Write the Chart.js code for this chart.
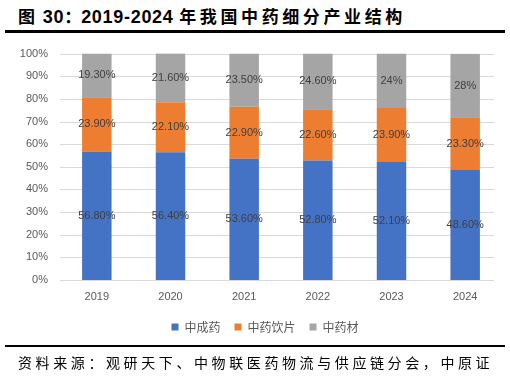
<!DOCTYPE html>
<html>
<head>
<meta charset="utf-8">
<script src="https://cdn.jsdelivr.net/npm/chart.js@4/dist/chart.umd.min.js"></script>
<style>
  html, body { margin: 0; padding: 0; background: #fff; }
  body { width: 510px; height: 378px; position: relative; overflow: hidden; }
  #title {
    position: absolute; left: 18px; top: 3px;
    font: bold 17px "Noto Sans CJK SC", sans-serif; color: #000;
    white-space: nowrap;
  }
  #title .num { font: bold 18px "Liberation Sans", Arial, sans-serif; letter-spacing: 0.7px; }
  #title .cn { letter-spacing: 3.6px; }
  .rule { position: absolute; left: 5px; width: 500px; background: #000; }
  #topRule { top: 30px; height: 3px; }
  #bottomRule { top: 345px; height: 2px; }
  #source {
    position: absolute; left: 18px; top: 352px;
    font: 14px "Noto Sans CJK SC", serif; color: #000;
    letter-spacing: 3.6px; white-space: nowrap;
  }
  #wrap { position: absolute; left: 0; top: 35px; width: 510px; height: 314px; }
</style>
</head>
<body>
<div id="title">图&nbsp;&nbsp;<span class="num">30</span>：<span class="num">2019-2024 </span><span class="cn">年我国中药细分产业结构</span></div>
<div class="rule" id="topRule"></div>
<div id="wrap"><canvas id="chart"></canvas></div>
<div class="rule" id="bottomRule"></div>
<div id="source">资料来源：观研天下、中物联医药物流与供应链分会，中原证</div>

<script>
const years = ["2019", "2020", "2021", "2022", "2023", "2024"];
const seriesNames = ["中成药", "中药饮片", "中药材"];
const patentMedicine = [56.8, 56.4, 53.6, 52.8, 52.1, 48.6];
const decoctionPieces = [23.9, 22.1, 22.9, 22.6, 23.9, 23.3];
const herbs = [19.3, 21.6, 23.5, 24.6, 24, 28];
// labels as printed on the bars
const patentLabels = ["56.80%", "56.40%", "53.60%", "52.80%", "52.10%", "48.60%"];
const piecesLabels = ["23.90%", "22.10%", "22.90%", "22.60%", "23.90%", "23.30%"];
const herbsLabels = ["19.30%", "21.60%", "23.50%", "24.60%", "24%", "28%"];
const colors = ["#4472C4", "#ED7D31", "#A5A5A5"];

const labelSets = [patentLabels, piecesLabels, herbsLabels];

// draw the value text in the middle of each bar segment
const barLabels = {
    id: "barLabels",
    afterDatasetsDraw(chart) {
        const ctx = chart.ctx;
        ctx.save();
        ctx.font = "11px 'Liberation Sans', Arial, sans-serif";
        ctx.fillStyle = "#404040";
        ctx.textAlign = "center";
        ctx.textBaseline = "middle";
        chart.data.datasets.forEach((ds, i) => {
            const meta = chart.getDatasetMeta(i);
            meta.data.forEach((bar, j) => {
                const mid = (bar.y + bar.base) / 2;
                ctx.fillText(labelSets[i][j], bar.x, mid);
            });
        });
        ctx.restore();
    }
};

// horizontal gridlines (stop a bit short of the right edge like the original)
const gridLines = {
    id: "gridLines",
    beforeDatasetsDraw(chart) {
        const ctx = chart.ctx;
        const area = chart.chartArea;
        const y = chart.scales.y;
        ctx.save();
        ctx.strokeStyle = "#d9d9d9";
        ctx.lineWidth = 1;
        y.ticks.forEach(t => {
            const py = Math.round(y.getPixelForValue(t.value)) + 0.5;
            ctx.beginPath();
            ctx.moveTo(area.left, py);
            ctx.lineTo(area.right - 8, py);
            ctx.stroke();
        });
        ctx.restore();
    }
};

// legend sits a little right of centre in the original
const legendShift = {
    id: "legendShift",
    afterLayout(chart) {
        chart.legend.left += 14;
        chart.legend.right += 14;
    }
};

new Chart(document.getElementById("chart"), {
    type: "bar",
    data: {
        labels: years,
        datasets: [
            { label: seriesNames[0], data: patentMedicine, backgroundColor: colors[0] },
            { label: seriesNames[1], data: decoctionPieces, backgroundColor: colors[1] },
            { label: seriesNames[2], data: herbs, backgroundColor: colors[2] }
        ]
    },
    options: {
        responsive: true,
        maintainAspectRatio: false,
        animation: false,
        layout: { padding: { top: 1, right: 8, left: 0, bottom: 6 } },
        datasets: { bar: { categoryPercentage: 1, barPercentage: 0.4 } },
        scales: {
            x: {
                stacked: true,
                grid: { display: false, drawTicks: false },
                border: { display: false },
                ticks: { color: "#595959", font: { size: 11, family: "'Liberation Sans', Arial, sans-serif" }, padding: 10 },
                afterFit: s => { s.height = 27; }
            },
            y: {
                stacked: true,
                min: 0,
                max: 100,
                grid: { display: false, drawTicks: false },
                border: { display: false },
                ticks: {
                    stepSize: 10,
                    color: "#595959",
                    padding: 12,
                    font: { size: 11, family: "'Liberation Sans', Arial, sans-serif" },
                    callback: v => v + "%"
                },
                afterFit: s => { s.width = 60; }
            }
        },
        plugins: {
            legend: {
                position: "bottom",
                labels: {
                    boxWidth: 7,
                    boxHeight: 7,
                    padding: 14,
                    color: "#595959",
                    font: { size: 12, family: "'Noto Sans CJK SC', sans-serif" }
                }
            },
            tooltip: { enabled: false }
        }
    },
    plugins: [gridLines, barLabels, legendShift]
});
</script>
</body>
</html>
